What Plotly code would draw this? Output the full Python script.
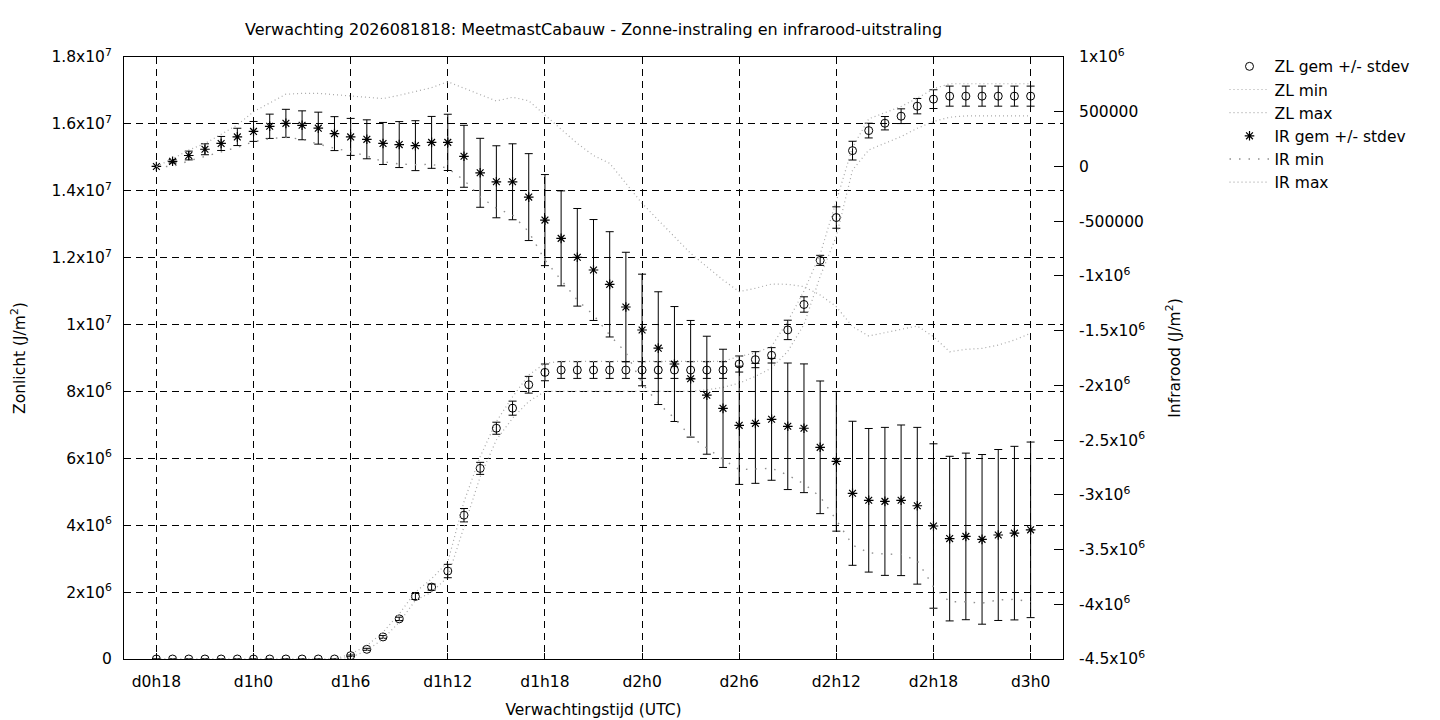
import plotly.graph_objects as go

# uren sinds d0h18, elk uur een punt
uren = list(range(55))
tick_uren = [0, 6, 12, 18, 24, 30, 36, 42, 48, 54]
tick_labels = ["d0h18", "d1h0", "d1h6", "d1h12", "d1h18",
               "d2h0", "d2h6", "d2h12", "d2h18", "d3h0"]

# Zonlicht (J/m2), linker as
zl_gem = [0, 0, 0, 0, 0, 0, 0, 0, 0, 0, 0, 0,
          0.10e6, 0.29e6, 0.66e6, 1.20e6, 1.87e6, 2.15e6, 2.63e6, 4.30e6, 5.70e6,
          6.90e6, 7.50e6, 8.20e6, 8.57e6, 8.64e6, 8.64e6, 8.64e6, 8.64e6, 8.64e6,
          8.64e6, 8.64e6, 8.64e6, 8.64e6, 8.64e6, 8.64e6, 8.82e6, 8.95e6, 9.08e6,
          9.84e6, 10.6e6, 11.92e6, 13.2e6, 15.2e6, 15.8e6, 16.02e6, 16.23e6,
          16.53e6, 16.74e6, 16.83e6, 16.83e6, 16.83e6, 16.83e6, 16.83e6, 16.83e6]
zl_sd = [0, 0, 0, 0, 0, 0, 0, 0, 0, 0, 0, 0,
         0.02e6, 0.03e6, 0.04e6, 0.05e6, 0.09e6, 0.09e6, 0.20e6, 0.20e6, 0.18e6,
         0.18e6, 0.21e6, 0.25e6, 0.25e6, 0.25e6, 0.25e6, 0.25e6, 0.25e6, 0.25e6,
         0.25e6, 0.25e6, 0.25e6, 0.25e6, 0.25e6, 0.25e6, 0.24e6, 0.24e6, 0.23e6,
         0.29e6, 0.23e6, 0.15e6, 0.32e6, 0.28e6, 0.22e6, 0.20e6, 0.22e6,
         0.23e6, 0.28e6, 0.30e6, 0.30e6, 0.30e6, 0.30e6, 0.30e6, 0.30e6]
zl_min = [0, 0, 0, 0, 0, 0, 0, 0, 0, 0, 0, 0,
          0.05e6, 0.25e6, 0.60e6, 1.10e6, 1.75e6, 2.00e6, 2.45e6, 3.95e6, 5.45e6,
          6.55e6, 7.20e6, 7.70e6, 8.00e6, 8.00e6, 8.00e6, 8.00e6, 8.00e6, 8.00e6,
          8.00e6, 8.00e6, 8.00e6, 8.00e6, 8.05e6, 8.12e6, 8.25e6, 8.45e6, 8.70e6,
          9.20e6, 10.0e6, 11.44e6, 12.64e6, 14.62e6, 15.22e6, 15.42e6, 15.62e6,
          15.87e6, 16.07e6, 16.20e6, 16.24e6, 16.24e6, 16.24e6, 16.24e6, 16.24e6]
zl_max = [0, 0, 0, 0, 0, 0, 0, 0, 0, 0, 0, 0,
          0.15e6, 0.40e6, 0.80e6, 1.35e6, 2.00e6, 2.40e6, 2.90e6, 4.70e6, 6.05e6,
          7.10e6, 7.84e6, 8.49e6, 8.84e6, 8.90e6, 8.90e6, 8.90e6, 8.90e6, 8.90e6,
          8.90e6, 8.90e6, 8.90e6, 8.90e6, 8.90e6, 8.90e6, 9.05e6, 9.15e6, 9.35e6,
          10.1e6, 11.0e6, 12.1e6, 13.7e6, 15.3e6, 16.15e6, 16.34e6, 16.52e6,
          16.77e6, 17.05e6, 17.2e6, 17.2e6, 17.2e6, 17.2e6, 17.2e6, 17.2e6]

# Infrarood (J/m2), rechter as
ir_gem = [0, 0.047e6, 0.10e6, 0.157e6, 0.21e6, 0.27e6, 0.32e6, 0.367e6, 0.394e6,
          0.376e6, 0.35e6, 0.30e6, 0.27e6, 0.248e6, 0.21e6, 0.20e6, 0.19e6, 0.22e6,
          0.22e6, 0.093e6, -0.058e6, -0.14e6, -0.14e6, -0.28e6, -0.49e6, -0.657e6,
          -0.83e6, -0.946e6, -1.077e6, -1.284e6, -1.494e6, -1.66e6, -1.805e6,
          -1.94e6, -2.09e6, -2.21e6, -2.365e6, -2.347e6, -2.31e6, -2.374e6,
          -2.392e6, -2.566e6, -2.694e6, -2.986e6, -3.05e6, -3.06e6, -3.05e6,
          -3.10e6, -3.285e6, -3.40e6, -3.38e6, -3.407e6, -3.367e6, -3.35e6, -3.32e6]
ir_sd = [0, 0.015e6, 0.04e6, 0.05e6, 0.064e6, 0.079e6, 0.091e6, 0.111e6, 0.128e6,
         0.132e6, 0.146e6, 0.155e6, 0.169e6, 0.178e6, 0.192e6, 0.21e6, 0.228e6,
         0.237e6, 0.257e6, 0.283e6, 0.315e6, 0.329e6, 0.347e6, 0.397e6, 0.416e6,
         0.434e6, 0.446e6, 0.461e6, 0.481e6, 0.50e6, 0.51e6, 0.515e6, 0.525e6,
         0.533e6, 0.539e6, 0.54e6, 0.54e6, 0.548e6, 0.557e6, 0.578e6, 0.588e6,
         0.606e6, 0.638e6, 0.658e6, 0.656e6, 0.676e6, 0.688e6, 0.716e6, 0.751e6,
         0.752e6, 0.761e6, 0.775e6, 0.781e6, 0.793e6, 0.802e6]
ir_min = [0, 0, 0.05e6, 0.09e6, 0.135e6, 0.175e6, 0.226e6, 0.254e6, 0.266e6,
          0.248e6, 0.205e6, 0.166e6, 0.135e6, 0.096e6, 0.044e6, 0.022e6, 0.016e6,
          0.02e6, -0.017e6, -0.124e6, -0.276e6, -0.382e6, -0.444e6, -0.596e6,
          -0.855e6, -1.037e6, -1.22e6, -1.357e6, -1.54e6, -1.70e6, -1.98e6,
          -2.164e6, -2.30e6, -2.469e6, -2.575e6, -2.676e6, -2.77e6, -2.767e6,
          -2.758e6, -2.819e6, -2.90e6, -3.017e6, -3.23e6, -3.459e6, -3.529e6,
          -3.541e6, -3.544e6, -3.602e6, -3.84e6, -3.977e6, -3.977e6, -3.99e6,
          -3.96e6, -3.955e6, -3.977e6]
ir_max = [0, 0.07e6, 0.15e6, 0.21e6, 0.294e6, 0.38e6, 0.50e6, 0.58e6, 0.66e6,
          0.668e6, 0.668e6, 0.656e6, 0.644e6, 0.637e6, 0.62e6, 0.65e6, 0.683e6,
          0.72e6, 0.774e6, 0.714e6, 0.653e6, 0.598e6, 0.632e6, 0.60e6, 0.47e6,
          0.34e6, 0.21e6, 0.10e6, 0.029e6, -0.154e6, -0.337e6, -0.49e6, -0.642e6,
          -0.794e6, -0.916e6, -1.037e6, -1.144e6, -1.113e6, -1.074e6, -1.077e6,
          -1.098e6, -1.174e6, -1.281e6, -1.464e6, -1.549e6, -1.519e6, -1.494e6,
          -1.458e6, -1.555e6, -1.693e6, -1.671e6, -1.662e6, -1.632e6, -1.586e6,
          -1.524e6]

links_ticks = [0, 2e6, 4e6, 6e6, 8e6, 10e6, 12e6, 14e6, 16e6, 18e6]
links_labels = ["0", "2x10<sup>6</sup>", "4x10<sup>6</sup>", "6x10<sup>6</sup>",
                "8x10<sup>6</sup>", "1x10<sup>7</sup>", "1.2x10<sup>7</sup>",
                "1.4x10<sup>7</sup>", "1.6x10<sup>7</sup>", "1.8x10<sup>7</sup>"]
rechts_ticks = [1e6, 0.5e6, 0, -0.5e6, -1e6, -1.5e6, -2e6, -2.5e6, -3e6,
                -3.5e6, -4e6, -4.5e6]
rechts_labels = ["1x10<sup>6</sup>", "500000", "0", "-500000", "-1x10<sup>6</sup>",
                 "-1.5x10<sup>6</sup>", "-2x10<sup>6</sup>", "-2.5x10<sup>6</sup>",
                 "-3x10<sup>6</sup>", "-3.5x10<sup>6</sup>", "-4x10<sup>6</sup>",
                 "-4.5x10<sup>6</sup>"]

GRIJS = "#a8a8a8"
FONT = "DejaVu Sans"
FS = 15.5

fig = go.Figure()

fig.add_trace(go.Scatter(
    x=uren, y=zl_gem, name="ZL gem +/- stdev", mode="markers",
    marker=dict(symbol="circle-open", size=8, color="black", line=dict(width=1)),
    error_y=dict(type="data", array=zl_sd, color="black", thickness=1, width=4),
))
fig.add_trace(go.Scatter(
    x=uren, y=zl_min, name="ZL min", mode="lines",
    line=dict(color=GRIJS, width=1.2, dash="1px,3px"),
))
fig.add_trace(go.Scatter(
    x=uren, y=zl_max, name="ZL max", mode="lines",
    line=dict(color=GRIJS, width=1.2, dash="1px,3px"),
))
fig.add_trace(go.Scatter(
    x=uren, y=ir_gem, name="IR gem +/- stdev", mode="markers", yaxis="y2",
    marker=dict(symbol="asterisk-open", size=8, color="black",
                line=dict(width=1.2, color="black")),
    error_y=dict(type="data", array=ir_sd, color="black", thickness=1, width=4),
))
fig.add_trace(go.Scatter(
    x=uren, y=ir_min, name="IR min", mode="lines", yaxis="y2",
    line=dict(color="#909090", width=1.4, dash="1.5px,8px"),
))
fig.add_trace(go.Scatter(
    x=uren, y=ir_max, name="IR max", mode="lines", yaxis="y2",
    line=dict(color=GRIJS, width=1.2, dash="1px,3px"),
))

fig.update_layout(
    width=1440, height=720,
    margin=dict(l=124, r=377, t=57, b=61, autoexpand=False),
    paper_bgcolor="white", plot_bgcolor="white",
    font=dict(family=FONT, size=FS, color="black"),
    title=dict(
        text="Verwachting 2026081818: MeetmastCabauw - Zonne-instraling en infrarood-uitstraling",
        x=0.5, xref="paper", y=1 - 29 / 720, yref="container", yanchor="middle",
        font=dict(size=16),
    ),
    xaxis=dict(
        range=[-2, 56], tickvals=tick_uren, ticktext=tick_labels,
        showgrid=True, gridcolor="black", gridwidth=1, griddash="7px,5px",
        zeroline=False, showline=True, linecolor="black", linewidth=1, mirror=True,
        ticks="inside", ticklen=6, tickcolor="black", ticklabelstandoff=8,
        tickfont=dict(size=FS), automargin=False,
        title=dict(text="Verwachtingstijd (UTC)", standoff=14, font=dict(size=FS)),
    ),
    yaxis=dict(
        range=[0, 1.8e7], tickvals=links_ticks, ticktext=links_labels,
        showgrid=True, gridcolor="black", gridwidth=1, griddash="7px,5px",
        zeroline=False, showline=True, linecolor="black", linewidth=1, mirror=True,
        ticks="inside", ticklen=6, tickcolor="black", ticklabelstandoff=8,
        tickfont=dict(size=FS), automargin=False,
        title=dict(text="Zonlicht (J/m<sup>2</sup>)", standoff=22, font=dict(size=FS)),
    ),
    yaxis2=dict(
        range=[-4.5e6, 1e6], tickvals=rechts_ticks, ticktext=rechts_labels,
        overlaying="y", side="right", showgrid=False, zeroline=False,
        showline=True, linecolor="black", linewidth=1,
        ticks="inside", ticklen=9, tickcolor="black", ticklabelstandoff=12,
        tickfont=dict(size=FS), automargin=False,
        title=dict(text="Infrarood (J/m<sup>2</sup>)", standoff=24, font=dict(size=FS)),
    ),
    legend=dict(
        x=1.172, y=1.012, xanchor="left", yanchor="top",
        bgcolor="rgba(0,0,0,0)", font=dict(size=FS),
        tracegroupgap=0, itemwidth=40,
    ),
)

fig.write_html("out.html", config={"displayModeBar": False},
               post_script="document.body.style.margin='0';")
